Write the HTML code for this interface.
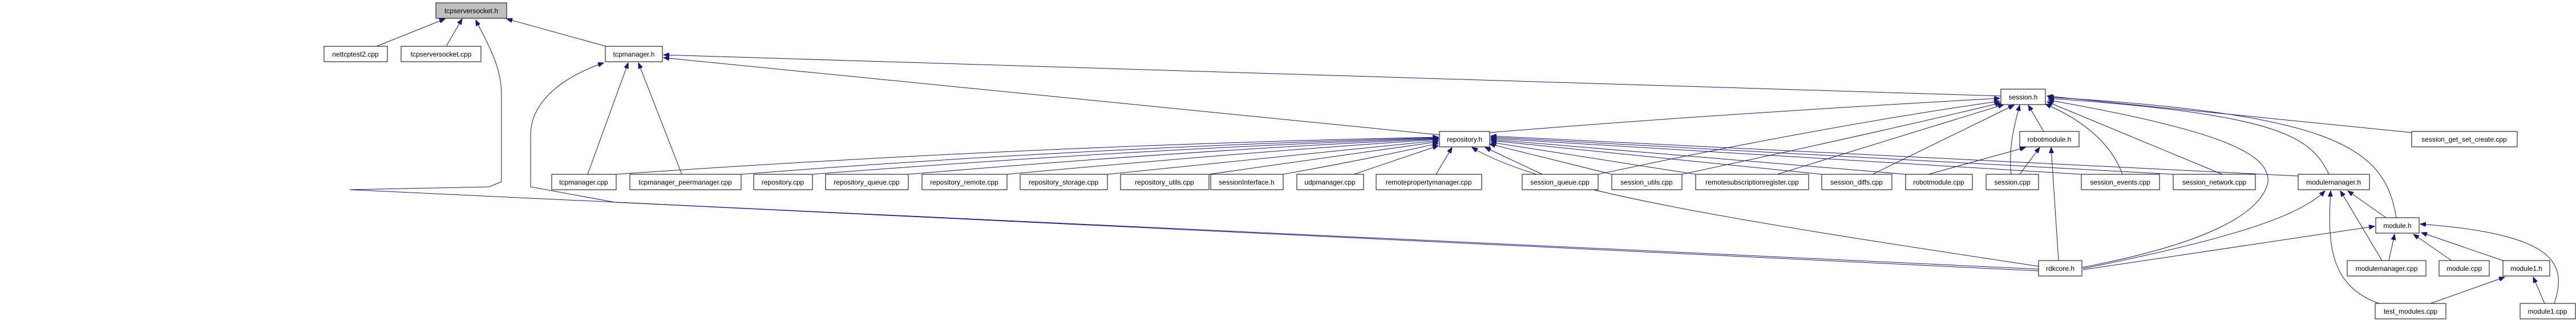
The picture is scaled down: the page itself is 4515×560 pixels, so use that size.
<!DOCTYPE html>
<html><head><meta charset="utf-8"><style>
html,body{margin:0;padding:0;background:#fff;}
svg{display:block}
text{font-family:"Liberation Sans",sans-serif;font-size:12px;fill:#000;text-anchor:middle}
.b{fill:#fff;stroke:#000;stroke-width:1}
.e{fill:none;stroke:#191970;stroke-width:1}
</style></head><body>
<svg width="4515" height="560" xmlns="http://www.w3.org/2000/svg">
<defs><marker id="a" markerWidth="11" markerHeight="8" refX="10" refY="4" orient="auto" markerUnits="userSpaceOnUse"><path d="M0,0 L10,4 L0,8 z" fill="#191970" stroke="#191970"/></marker></defs>
<g class="e" marker-end="url(#a)">
<path d="M660,81 L780,33"/>
<path d="M782,81 L810,33"/>
<path d="M1062,81 L888,33"/>
<path d="M3573,471 L613,332 L857,327 L879,318 L879,165 C879,110 845,60 834,35"/>
<path d="M1030,305 L1101,110"/>
<path d="M1195,305 L1119,110"/>
<path d="M3573,474 L1078,354 L930,327 L930,237 C930,170 1000,130 1058,110"/>
<path d="M3507,168 L1163,96"/>
<path d="M2523,236 L1163,101"/>
<path d="M1080,305 Q1800,255 2521,240"/>
<path d="M1299,305 Q1900,258 2521,241"/>
<path d="M1424,305 Q2000,260 2521,242"/>
<path d="M1592,305 Q2100,262 2521,243"/>
<path d="M1765,305 Q2200,265 2521,244"/>
<path d="M1941,305 Q2300,268 2521,246"/>
<path d="M2119,305 Q2350,272 2521,248"/>
<path d="M2249,305 Q2400,278 2521,251"/>
<path d="M2373,305 L2521,255"/>
<path d="M2517,305 L2545,258"/>
<path d="M2703,305 L2603,258"/>
<path d="M2825,305 L2611,252"/>
<path d="M2972,305 L2613,249"/>
<path d="M3193,305 L2613,246"/>
<path d="M3340,305 L2613,244"/>
<path d="M3648,305 L2613,242"/>
<path d="M3809,305 L2613,240"/>
<path d="M4028,308 L2613,238"/>
<path d="M3573,466 C3000,380 2700,330 2580,258"/>
<path d="M2611,232 Q3000,200 3505,172"/>
<path d="M2801,305 Q3200,220 3505,177"/>
<path d="M2948,305 Q3300,230 3507,180"/>
<path d="M3115,305 L3512,183"/>
<path d="M3282,305 L3530,184"/>
<path d="M3525,305 C3520,260 3530,220 3540,184"/>
<path d="M3582,230 L3555,184"/>
<path d="M3720,305 C3700,250 3650,210 3585,182"/>
<path d="M3895,305 L3588,178"/>
<path d="M3649,468 C3850,430 3960,380 3975,320 C3980,270 3900,230 3590,175"/>
<path d="M4082,305 C4050,240 4000,200 3590,172"/>
<path d="M4200,381 C4180,260 4100,200 3590,170"/>
<path d="M4227,232 L3588,168"/>
<path d="M3380,305 L3550,258"/>
<path d="M3540,305 L3575,258"/>
<path d="M3608,456 L3595,258"/>
<path d="M3651,470 C3900,420 4030,380 4075,334"/>
<path d="M4182,381 L4115,334"/>
<path d="M4175,456 L4102,334"/>
<path d="M4170,531 C4080,500 4080,420 4085,334"/>
<path d="M3651,472 L4162,396"/>
<path d="M4187,456 L4197,410"/>
<path d="M4297,456 L4230,410"/>
<path d="M4387,456 L4244,407"/>
<path d="M4477,531 C4500,460 4480,410 4242,392"/>
<path d="M4260,531 L4390,485"/>
<path d="M4460,531 L4440,485"/>
</g>
<rect x="764" y="5" width="124" height="27" fill="#bfbfbf" stroke="#000"/><text x="826" y="23">tcpserversocket.h</text>
<g class="b">
<rect x="568" y="81" width="111" height="27"/><rect x="703" y="81" width="140" height="27"/><rect x="1061" y="81" width="100" height="27"/>
<rect x="3507" y="156" width="78" height="27"/>
<rect x="2523" y="230" width="88" height="27"/><rect x="3540" y="230" width="104" height="27"/><rect x="4227" y="230" width="185" height="27"/>
<rect x="967" y="305" width="113" height="27"/><rect x="1104" y="305" width="195" height="27"/><rect x="1321" y="305" width="103" height="27"/><rect x="1447" y="305" width="145" height="27"/><rect x="1616" y="305" width="149" height="27"/><rect x="1788" y="305" width="153" height="27"/><rect x="1964" y="305" width="155" height="27"/><rect x="2122" y="305" width="127" height="27"/><rect x="2273" y="305" width="117" height="27"/><rect x="2412" y="305" width="185" height="27"/><rect x="2668" y="305" width="133" height="27"/><rect x="2825" y="305" width="123" height="27"/><rect x="2972" y="305" width="198" height="27"/><rect x="3193" y="305" width="123" height="27"/><rect x="3340" y="305" width="117" height="27"/><rect x="3481" y="305" width="92" height="27"/><rect x="3648" y="305" width="137" height="27"/><rect x="3809" y="305" width="144" height="27"/><rect x="4028" y="305" width="125" height="27"/>
<rect x="4164" y="381" width="76" height="27"/>
<rect x="3573" y="456" width="76" height="27"/><rect x="4114" y="456" width="138" height="27"/><rect x="4275" y="456" width="88" height="27"/><rect x="4387" y="456" width="82" height="27"/>
<rect x="4163" y="531" width="124" height="27"/><rect x="4417" y="531" width="97" height="27"/>
</g>
<text x="623" y="99">nettcptest2.cpp</text><text x="773" y="99">tcpserversocket.cpp</text><text x="1111" y="99">tcpmanager.h</text>
<text x="3546" y="174">session.h</text>
<text x="2567" y="248">repository.h</text><text x="3592" y="248">robotmodule.h</text><text x="4319" y="248">session_get_set_create.cpp</text>
<text x="1023" y="323">tcpmanager.cpp</text><text x="1201" y="323">tcpmanager_peermanager.cpp</text><text x="1372" y="323">repository.cpp</text><text x="1519" y="323">repository_queue.cpp</text><text x="1690" y="323">repository_remote.cpp</text><text x="1864" y="323">repository_storage.cpp</text><text x="2041" y="323">repository_utils.cpp</text><text x="2185" y="323">sessionInterface.h</text><text x="2331" y="323">udpmanager.cpp</text><text x="2504" y="323">remotepropertymanager.cpp</text><text x="2734" y="323">session_queue.cpp</text><text x="2886" y="323">session_utils.cpp</text><text x="3071" y="323">remotesubscriptionregister.cpp</text><text x="3254" y="323">session_diffs.cpp</text><text x="3398" y="323">robotmodule.cpp</text><text x="3527" y="323">session.cpp</text><text x="3716" y="323">session_events.cpp</text><text x="3881" y="323">session_network.cpp</text><text x="4090" y="323">modulemanager.h</text>
<text x="4202" y="399">module.h</text>
<text x="3611" y="474">rdkcore.h</text><text x="4183" y="474">modulemanager.cpp</text><text x="4319" y="474">module.cpp</text><text x="4428" y="474">module1.h</text>
<text x="4225" y="549">test_modules.cpp</text><text x="4465" y="549">module1.cpp</text>
</svg>
</body></html>
